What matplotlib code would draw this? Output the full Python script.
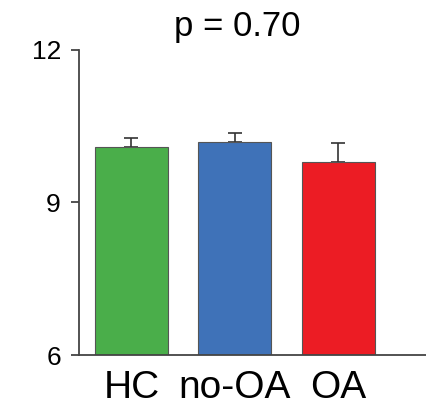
import numpy as np
import matplotlib.pyplot as plt

plt.rcParams['font.family'] = ['Liberation Sans', 'DejaVu Sans']

# data
groups = ['HC', 'no-OA', 'OA']
means = [10.09, 10.18, 9.79]
sem = [0.18, 0.19, 0.38]
colors = ['#4aae4a', '#3f72b8', '#ec1c24']
p_text = 'p = 0.70'

fig = plt.figure(figsize=(4.27, 4.12), dpi=100, facecolor='white')
ax = fig.add_axes([0.185, 0.138, 0.815, 0.741])

x = np.arange(len(groups))
ax.bar(x, np.array(means) - 6, bottom=6, width=0.705, color=colors,
       edgecolor='#555555', linewidth=0.8, zorder=2)
ax.errorbar(x, means, yerr=[np.zeros(len(sem)), sem], fmt='none',
            ecolor='#333333', elinewidth=1.2, capsize=4.7, capthick=1.2,
            zorder=1)

ax.set_xlim(-0.507, 2.855)
ax.set_ylim(6, 12)
ax.set_yticks([6, 9, 12])
ax.set_yticklabels(['6', '9', '12'], fontsize=19)
ax.set_xticks(x)
ax.set_xticklabels(groups, fontsize=28)

for s in ['top', 'right']:
    ax.spines[s].set_visible(False)
for s in ['left', 'bottom']:
    ax.spines[s].set_color('#444444')
    ax.spines[s].set_linewidth(1.3)

ax.tick_params(axis='y', direction='out', length=6, width=1.3,
               color='#444444', pad=7)
ax.tick_params(axis='x', length=0, pad=11)

fig.text(0.555, 0.935, p_text, ha='center', va='center', fontsize=25)

fig.savefig('out.png', dpi=100, facecolor='white')
